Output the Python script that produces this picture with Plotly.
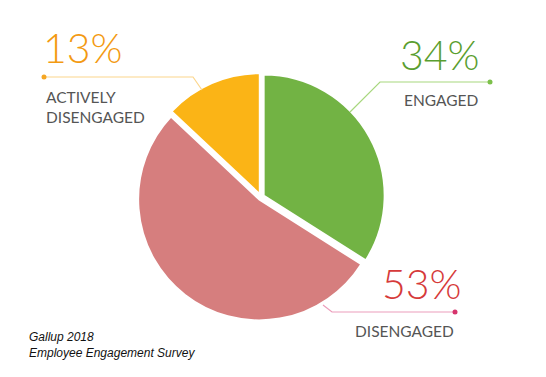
import plotly.graph_objects as go

labels = ["ENGAGED", "DISENGAGED", "ACTIVELY<br>DISENGAGED"]
values = [34, 53, 13]
colors = ["#72b344", "#d67e7e", "#fbb416"]
text_colors = ["#5a9e2f", "#d63a3a", "#f39a12"]
line_colors = ["#a8d77e", "#ec9dbb", "#fcd68c"]
dot_colors = ["#7cc04a", "#d6336c", "#f5a623"]

W, H = 546, 377
def px(x):
    return x / W
def py(y):
    return 1 - y / H

pull = 0.025
cx, cy, r = 261, 197, 121
R = r * (1 + pull)

fig = go.Figure(go.Pie(
    labels=labels, values=values, sort=False, direction="clockwise", rotation=0,
    marker=dict(colors=colors, line=dict(color="white", width=2)),
    pull=[pull] * 3, textinfo="none", hoverinfo="label+percent", showlegend=False,
    domain=dict(x=[px(cx - R), px(cx + R)], y=[py(cy + R), py(cy - R)]),
))

shapes = []
paths = [
    [(350, 112), (380, 82), (490, 82)],
    [(323, 305), (332, 312), (455, 312)],
    [(202, 90), (193, 77), (44, 77)],
]
for pts, lc, dc in zip(paths, line_colors, dot_colors):
    d = "M " + " L ".join(f"{px(x)},{py(y)}" for x, y in pts)
    shapes.append(dict(type="path", path=d, xref="paper", yref="paper",
                       line=dict(color=lc, width=1.2)))
    ex, ey = pts[-1]
    shapes.append(dict(type="circle", xref="paper", yref="paper",
                       x0=px(ex - 2.5), x1=px(ex + 2.5), y0=py(ey + 2.5), y1=py(ey - 2.5),
                       fillcolor=dc, line=dict(width=0)))

pct_pos = [(440, 55, "center"), (422, 283, "center"), (41, 48, "left")]
lab_pos = [(441, 100, "center"), (404, 331, "center"), (44, 107, "left")]

annotations = []
for v, tc, (x, y, xa) in zip(values, text_colors, pct_pos):
    annotations.append(dict(text=f"{v}%", x=px(x), y=py(y), xref="paper", yref="paper",
                            xanchor=xa, yanchor="middle", showarrow=False,
                            font=dict(family="Lato", size=41, color=tc, weight=300)))
for lab, (x, y, xa) in zip(labels, lab_pos):
    annotations.append(dict(text=lab, x=px(x), y=py(y), xref="paper", yref="paper",
                            xanchor=xa, yanchor="middle", showarrow=False, align="left",
                            font=dict(family="Lato", size=15.5, color="#555555")))
annotations.append(dict(text="<i>Gallup 2018<br>Employee Engagement Survey</i>",
                        x=px(27), y=py(345), xref="paper", yref="paper",
                        xanchor="left", yanchor="middle", showarrow=False, align="left",
                        font=dict(family="Liberation Sans", size=12, color="#111111")))

fig.update_layout(width=W, height=H, margin=dict(l=0, r=0, t=0, b=0),
                  paper_bgcolor="white", plot_bgcolor="white",
                  shapes=shapes, annotations=annotations)
fig.write_html("out.html", config={"displayModeBar": False},
               post_script="document.body.style.margin='0';document.body.style.overflow='hidden';")
